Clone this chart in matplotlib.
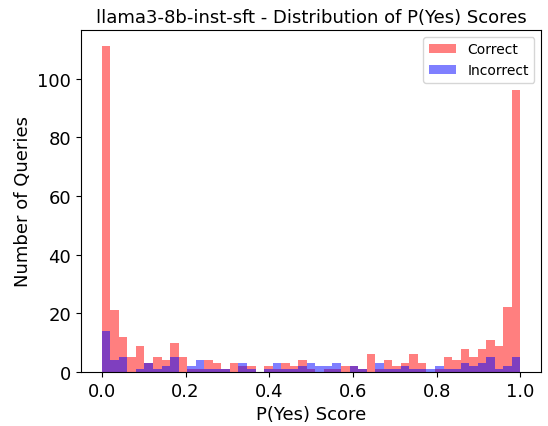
import numpy as np
import matplotlib
matplotlib.use("Agg")
import matplotlib.pyplot as plt

# Histogram counts (49 bins on [0, 1])
bin_edges = np.linspace(0, 1, 50)
correct_counts = [111, 21, 12, 5, 9, 3, 5, 4, 10, 5,
                  1, 1, 4, 3, 1, 3, 2, 2, 0, 2,
                  1, 3, 2, 4, 1, 0, 1, 1, 2, 2,
                  1, 6, 1, 4, 2, 3, 6, 3, 0, 1,
                  5, 4, 8, 5, 8, 11, 9, 22, 96]
incorrect_counts = [14, 4, 5, 0, 1, 3, 1, 2, 5, 0,
                    2, 4, 1, 1, 1, 0, 3, 1, 0, 1,
                    3, 1, 1, 2, 3, 2, 2, 3, 0, 2,
                    1, 0, 3, 1, 1, 2, 1, 1, 1, 2,
                    1, 1, 3, 2, 3, 5, 1, 2, 5]

title = "llama3-8b-inst-sft - Distribution of P(Yes) Scores"
xlabel = "P(Yes) Score"
ylabel = "Number of Queries"

centers = (bin_edges[:-1] + bin_edges[1:]) / 2

fig = plt.figure(figsize=(5.48, 4.27), dpi=100)
ax = fig.add_axes([0.1475, 0.1265, 0.8405, 0.801])
ax.hist(centers, bins=bin_edges, weights=correct_counts, color="red", alpha=0.5, label="Correct")
ax.hist(centers, bins=bin_edges, weights=incorrect_counts, color="blue", alpha=0.5, label="Incorrect")
ax.set_title(title, fontsize=13)
ax.set_xlabel(xlabel, fontsize=13)
ax.set_ylabel(ylabel, fontsize=13)
ax.tick_params(labelsize=13)
ax.legend(loc="upper right")
fig.savefig("out.png", dpi=100)
